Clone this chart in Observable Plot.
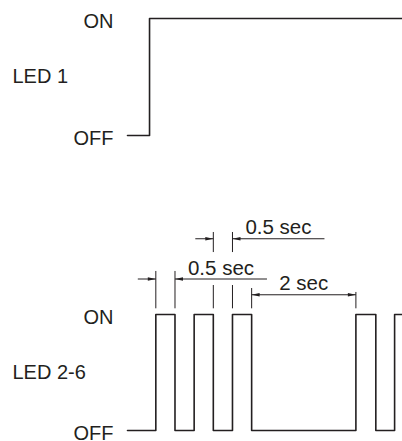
<!DOCTYPE html>
<html>
<head>
<meta charset="utf-8">
<script src="https://cdn.jsdelivr.net/npm/d3@7"></script>
<script src="https://cdn.jsdelivr.net/npm/@observablehq/plot@0.6"></script>
<style>
  html, body { margin: 0; padding: 0; background: #fff; }
  #chart svg { display: block; }
</style>
</head>
<body>
<div id="chart"></div>
<script>
// ---- data (time in seconds; state 0 = OFF, 1 = ON)
const stateLabels = ["OFF", "ON"];
const led1Name = "LED 1";
const led1Times = [-0.739, -0.164, 6.436];
const led1States = [0, 1, 1];

const led26Name = "LED 2-6";
const led26Times = [-0.739, 0, 0.5, 1, 1.5, 2, 2.5, 5.22, 5.74, 6.23, 6.436];
const led26States = [0, 1, 0, 1, 0, 1, 0, 1, 0, 1, 1];

// dimension annotations: start, end, label, arrow style
const dimFrom = [0, 1.5, 2.5];
const dimTo = [0.5, 2, 5.22];
const dimLabels = ["0.5 sec", "0.5 sec", "2 sec"];
const dimStyle = ["outside", "outside", "inside"];

// ---- layout (levels above the ON line, in state units)
const dimLevel = [1.306, 1.653, 1.170];
const extBase = 1.049;
const extTop = [[1.371], [1.25, 1.534, 1.707], [1.224], [1.19]];

const ink = "#231f20";
const font = "'Liberation Sans', Arial, Helvetica, sans-serif";
const xDomain = [led26Times[0], led26Times[led26Times.length - 1]];

const arrowHead = {
  draw(ctx) { ctx.moveTo(0, 0); ctx.lineTo(-8, -1.7); ctx.lineTo(-8, 1.7); ctx.closePath(); }
};

function signal(times, states) { return times.map((t, i) => ({t, v: states[i]})); }

function axis() {
  return Plot.axisY([0, 1], {
    tickFormat: d => stateLabels[d], tickSize: 0, tickPadding: 14,
    fontSize: 20, dy: 3, label: null, fill: ink
  });
}

function nameLabel(name) {
  return Plot.text([{name, v: 0.5}], {
    y: "v", text: "name", frameAnchor: "left", textAnchor: "start",
    dx: -115, fontSize: 20, fill: ink
  });
}

const base = {
  width: 402, marginLeft: 127, marginRight: 0,
  x: {domain: xDomain, axis: null},
  y: {domain: [0, 1]},
  style: {fontFamily: font, background: "transparent", overflow: "visible"}
};

// ---- LED 1
const chartLed1 = Plot.plot({
  ...base, height: 200, marginTop: 18, marginBottom: 65,
  marks: [
    axis(),
    nameLabel(led1Name),
    Plot.line(signal(led1Times, led1States), {x: "t", y: "v", curve: "step-after", stroke: ink, strokeWidth: 1.6})
  ]
});

// ---- LED 2-6 with dimensions
const segs = [], heads = [], texts = [], exts = [];
const extTimes = [0, 0.5, 1.5, 2, 2.5, 5.22];
const extTopsByT = [extTop[0], extTop[0], extTop[1], extTop[1], extTop[2], extTop[3]];
extTimes.forEach((t, i) => {
  const tops = extTopsByT[i];
  if (tops.length === 1) exts.push({t, y1: extBase, y2: tops[0]});
  else { exts.push({t, y1: extBase, y2: tops[0]}); exts.push({t, y1: tops[1], y2: tops[2]}); }
});
dimFrom.forEach((a, i) => {
  const b = dimTo[i], y = dimLevel[i];
  if (dimStyle[i] === "outside") {
    segs.push({x1: a - 0.47, x2: a, y});
    segs.push({x1: b, x2: b + 2.4, y});
    heads.push({x: a, y, r: 0});
    heads.push({x: b, y, r: 180});
    texts.push({x: b + 1.2, y, label: dimLabels[i]});
  } else {
    segs.push({x1: a, x2: b, y});
    heads.push({x: a, y, r: 180});
    heads.push({x: b, y, r: 0});
    texts.push({x: (a + b) / 2, y, label: dimLabels[i]});
  }
});

const chartLed26 = Plot.plot({
  ...base, height: 241, marginTop: 114, marginBottom: 11,
  marks: [
    axis(),
    nameLabel(led26Name),
    Plot.line(signal(led26Times, led26States), {x: "t", y: "v", curve: "step-after", stroke: ink, strokeWidth: 1.6}),
    Plot.ruleX(exts, {x: "t", y1: "y1", y2: "y2", stroke: ink, strokeWidth: 1}),
    Plot.link(segs, {x1: "x1", x2: "x2", y1: "y", y2: "y", stroke: ink, strokeWidth: 1}),
    Plot.dot(heads, {x: "x", y: "y", rotate: "r", symbol: arrowHead, r: 4, fill: ink, stroke: "none"}),
    Plot.text(texts, {x: "x", y: "y", text: "label", dy: -11, fontSize: 20.5, fill: ink})
  ]
});

document.getElementById("chart").append(chartLed1, chartLed26);
</script>
</body>
</html>
